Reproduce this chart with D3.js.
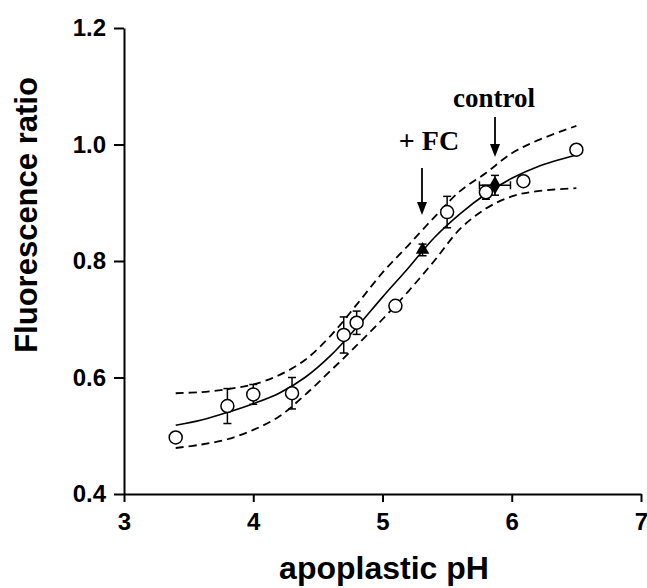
<!DOCTYPE html>
<html>
<head>
<meta charset="utf-8">
<script src="https://cdn.jsdelivr.net/npm/d3@7"></script>
<style>
  body { margin: 0; background: #fff; }
  svg { display: block; }
</style>
</head>
<body>
<div id="chart"></div>
<script>
// Measured points (open circles)
const pH = [3.40, 3.80, 4.00, 4.30, 4.70, 4.80, 5.10, 5.50, 5.80, 6.09, 6.50];
const ratio = [0.497, 0.551, 0.571, 0.573, 0.673, 0.694, 0.723, 0.884, 0.918, 0.937, 0.991];
const ratioErr = [0, 0.030, 0.017, 0.027, 0.031, 0.020, 0, 0.027, 0.012, 0, 0];

// "+ FC" (triangle) and "control" (filled) points
const fcPoint = { x: 5.31, y: 0.819, err: 0.010, xerr: 0 };
const controlPoint = { x: 5.87, y: 0.930, err: 0.017, xerr: 0.12 };

// Fit curve and confidence band
const curveX = [3.4, 3.6, 3.8, 4.0, 4.2, 4.4, 4.6, 4.8, 5.0, 5.2, 5.4, 5.6, 5.8, 6.0, 6.2, 6.5];
const fitY = [0.518, 0.527, 0.540, 0.555, 0.573, 0.600, 0.638, 0.686, 0.738, 0.788, 0.840, 0.881, 0.915, 0.942, 0.962, 0.982];
const upperY = [0.573, 0.575, 0.580, 0.588, 0.604, 0.630, 0.672, 0.725, 0.780, 0.827, 0.875, 0.920, 0.951, 0.985, 1.007, 1.032];
const lowerY = [0.479, 0.485, 0.494, 0.510, 0.533, 0.570, 0.612, 0.655, 0.700, 0.748, 0.800, 0.855, 0.890, 0.911, 0.920, 0.925];

const xTicks = [3, 4, 5, 6, 7];
const yTicks = [0.4, 0.6, 0.8, 1.0, 1.2];

const width = 647, height = 588;
const sans = "Arial, 'Liberation Sans', sans-serif";
const serif = "'Times New Roman', 'Liberation Serif', serif";

const svg = d3.select("#chart").append("svg")
  .attr("width", width)
  .attr("height", height);

const x = d3.scaleLinear().domain([3, 7]).range([124, 641]);
const y = d3.scaleLinear().domain([0.4, 1.2]).range([494, 28]);

// Axes
const xAxis = svg.append("g")
  .attr("transform", `translate(0,${y(0.4)})`)
  .call(d3.axisBottom(x).tickValues(xTicks).tickFormat(d3.format("d")).tickSize(8).tickPadding(11).tickSizeOuter(0));
const yAxis = svg.append("g")
  .attr("transform", `translate(${x(3)},0)`)
  .call(d3.axisLeft(y).tickValues(yTicks).tickFormat(d3.format(".1f")).tickSize(10).tickPadding(8).tickSizeOuter(0));

[xAxis, yAxis].forEach(a => {
  a.attr("font-size", null);
  a.select(".domain").attr("stroke", "#000").attr("stroke-width", 2);
  a.selectAll(".tick line").attr("stroke", "#000").attr("stroke-width", 2);
  a.selectAll(".tick text")
    .attr("fill", "#000")
    .style("font-family", sans)
    .style("font-weight", "bold")
    .style("font-size", "24px");
});

// Axis titles
svg.append("text")
  .attr("x", 384)
  .attr("y", 579)
  .attr("text-anchor", "middle")
  .style("font-family", sans)
  .style("font-weight", "bold")
  .style("font-size", "32px")
  .text("apoplastic pH");
svg.append("text")
  .attr("transform", "translate(37,215) rotate(-90)")
  .attr("text-anchor", "middle")
  .style("font-family", sans)
  .style("font-weight", "bold")
  .style("font-size", "31px")
  .text("Fluorescence ratio");

// Curves
const line = d3.line()
  .x(d => x(d[0]))
  .y(d => y(d[1]))
  .curve(d3.curveCatmullRom);

svg.append("path")
  .datum(d3.zip(curveX, fitY))
  .attr("d", line)
  .attr("fill", "none")
  .attr("stroke", "#000")
  .attr("stroke-width", 1.6);

[upperY, lowerY].forEach(arr => {
  svg.append("path")
    .datum(d3.zip(curveX, arr))
    .attr("d", line)
    .attr("fill", "none")
    .attr("stroke", "#000")
    .attr("stroke-width", 1.8)
    .attr("stroke-dasharray", "8,5");
});

// Error bars
const cap = 4;
function errorBar(cx, cy, err, xerr) {
  const g = svg.append("g").attr("stroke", "#000").attr("stroke-width", 1.5);
  if (err > 0) {
    g.append("line").attr("x1", x(cx)).attr("x2", x(cx)).attr("y1", y(cy - err)).attr("y2", y(cy + err));
    [cy - err, cy + err].forEach(v => {
      g.append("line").attr("x1", x(cx) - cap).attr("x2", x(cx) + cap).attr("y1", y(v)).attr("y2", y(v));
    });
  }
  if (xerr > 0) {
    g.append("line").attr("x1", x(cx - xerr)).attr("x2", x(cx + xerr)).attr("y1", y(cy)).attr("y2", y(cy));
    [cx - xerr, cx + xerr].forEach(v => {
      g.append("line").attr("x1", x(v)).attr("x2", x(v)).attr("y1", y(cy) - cap).attr("y2", y(cy) + cap);
    });
  }
}

pH.forEach((v, i) => errorBar(v, ratio[i], ratioErr[i], 0));
errorBar(fcPoint.x, fcPoint.y, fcPoint.err, fcPoint.xerr);
errorBar(controlPoint.x, controlPoint.y, controlPoint.err, controlPoint.xerr);

// Open circles
svg.append("g")
  .selectAll("circle")
  .data(d3.zip(pH, ratio))
  .enter().append("circle")
  .attr("cx", d => x(d[0]))
  .attr("cy", d => y(d[1]))
  .attr("r", 6.5)
  .attr("fill", "#fff")
  .attr("stroke", "#000")
  .attr("stroke-width", 1.5);

// Filled markers
svg.append("path")
  .attr("d", d3.symbol().type(d3.symbolTriangle).size(80)())
  .attr("transform", `translate(${x(fcPoint.x)},${y(fcPoint.y)})`)
  .attr("fill", "#000");
svg.append("path")
  .attr("d", d3.symbol().type(d3.symbolDiamond).size(100)())
  .attr("transform", `translate(${x(controlPoint.x)},${y(controlPoint.y)})`)
  .attr("fill", "#000");

// Annotations with arrows
function arrow(px, y1, y2) {
  svg.append("line")
    .attr("x1", px).attr("x2", px)
    .attr("y1", y1).attr("y2", y2 - 10)
    .attr("stroke", "#000").attr("stroke-width", 1.8);
  svg.append("path")
    .attr("d", `M${px - 5},${y2 - 13}L${px + 5},${y2 - 13}L${px},${y2}Z`)
    .attr("fill", "#000");
}

svg.append("text")
  .attr("x", 494)
  .attr("y", 107)
  .attr("text-anchor", "middle")
  .style("font-family", serif)
  .style("font-weight", "bold")
  .style("font-size", "27px")
  .text("control");
arrow(495, 117, 157);

svg.append("text")
  .attr("x", 429)
  .attr("y", 150)
  .attr("text-anchor", "middle")
  .style("font-family", serif)
  .style("font-weight", "bold")
  .style("font-size", "28px")
  .text("+ FC");
arrow(422, 168, 215);
</script>
</body>
</html>
